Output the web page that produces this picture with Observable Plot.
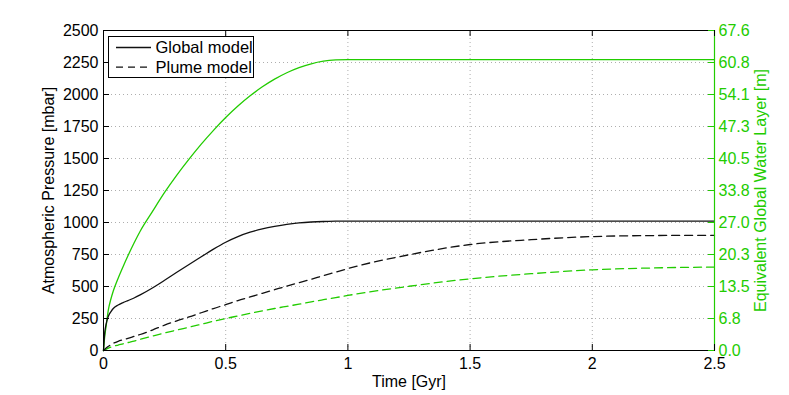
<!DOCTYPE html>
<html>
<head>
<meta charset="utf-8">
<script src="https://cdn.jsdelivr.net/npm/d3@7"></script>
<script src="https://cdn.jsdelivr.net/npm/@observablehq/plot@0.6"></script>
<style>
  html, body { margin: 0; padding: 0; background: #fff; }
  #wrap { position: relative; width: 789px; height: 395px; font-family: "Liberation Sans", Arial, sans-serif; }
  #legend { position: absolute; left: 0; top: 0; pointer-events: none; }
</style>
</head>
<body>
<div id="wrap"></div>
<script>
// ---- data ----
const timeGyr = [0, 0.005, 0.01, 0.02, 0.03, 0.04, 0.06, 0.08, 0.1, 0.125, 0.15, 0.2, 0.25, 0.3, 0.35, 0.4, 0.45, 0.5, 0.55, 0.6, 0.65, 0.7, 0.75, 0.8, 0.85, 0.9, 0.95, 1.0, 1.25, 1.5, 1.75, 2.0, 2.25, 2.5];
// Atmospheric pressure [mbar]
const globalPressure = [0, 140, 200, 268, 302, 328, 355, 374, 390, 410, 434, 488, 549, 611, 672, 732, 792, 846, 890, 924, 950, 970, 986, 997, 1004, 1008, 1010, 1011, 1011, 1011, 1011, 1011, 1011, 1011];
const plumePressure = [0, 10, 18, 33, 45, 56, 72, 84, 95, 110, 125, 160, 198, 232, 262, 295, 328, 358, 390, 418, 447, 475, 503, 530, 557, 585, 612, 640, 748, 828, 866, 890, 898, 900];
// Equivalent global water layer [m]
const globalWater = [0, 2.97, 4.87, 8.65, 10.82, 12.57, 15.28, 17.71, 20.01, 22.71, 25.20, 29.34, 33.39, 37.05, 40.42, 43.59, 46.51, 49.21, 51.65, 53.81, 55.70, 57.32, 58.68, 59.76, 60.57, 61.11, 61.38, 61.46, 61.46, 61.46, 61.46, 61.46, 61.46, 61.46];
const plumeWater = [0, 0.14, 0.24, 0.49, 0.70, 0.89, 1.16, 1.41, 1.68, 2.0, 2.35, 3.03, 3.70, 4.33, 4.92, 5.54, 6.17, 6.76, 7.30, 7.84, 8.38, 8.87, 9.33, 9.79, 10.28, 10.73, 11.17, 11.63, 13.57, 15.14, 16.22, 17.04, 17.44, 17.63];

const xTicks = [0, 0.5, 1, 1.5, 2, 2.5];
const xTickLabels = ["0", "0.5", "1", "1.5", "2", "2.5"];
const leftTicks = [0, 250, 500, 750, 1000, 1250, 1500, 1750, 2000, 2250, 2500];
const rightTickLabels = ["0.0", "6.8", "13.5", "20.3", "27.0", "33.8", "40.5", "47.3", "54.1", "60.8", "67.6"];
const rightMax = 67.6;
const leftMax = 2500;

const seriesNames = ["Global model", "Plume model"];
const xLabel = "Time [Gyr]";
const leftLabel = "Atmospheric Pressure [mbar]";
const rightLabel = "Equivalent Global Water Layer [m]";

// ---- build tables ----
const toLeft = m => m * leftMax / rightMax;
const rows = (ys, conv = v => v) => timeGyr.map((t, i) => ({t, v: conv(ys[i])}));
const gP = rows(globalPressure), pP = rows(plumePressure);
const gW = rows(globalWater, toLeft), pW = rows(plumeWater, toLeft);

const green = "#22cc00";
const dash = "8,5";
const xLab = new Map(xTicks.map((v, i) => [v, xTickLabels[i]]));
const rLab = new Map(leftTicks.map((v, i) => [v, rightTickLabels[i]]));
const innerX = xTicks.slice(1, -1);
const innerY = leftTicks.slice(1, -1);
const TL = 6;
const FS = 16;

const chart = Plot.plot({
  width: 789,
  height: 395,
  marginLeft: 103,
  marginRight: 75,
  marginTop: 30,
  marginBottom: 45,
  style: {fontFamily: '"Liberation Sans", Arial, sans-serif', fontSize: "16px", background: "#fff", overflow: "visible"},
  x: {domain: [0, 2.5]},
  y: {domain: [0, 2500]},
  marks: [
    // grid
    Plot.ruleX(innerX, {x: d => d, stroke: "#999", strokeWidth: 0.8, strokeDasharray: "1,3"}),
    Plot.ruleY(innerY, {y: d => d, stroke: "#999", strokeWidth: 0.8, strokeDasharray: "1,3"}),
    // curves
    Plot.line(gW, {x: "t", y: "v", stroke: green, strokeWidth: 1.3, curve: "monotone-x"}),
    Plot.line(pW, {x: "t", y: "v", stroke: green, strokeWidth: 1.3, strokeDasharray: dash, curve: "monotone-x"}),
    Plot.line(gP, {x: "t", y: "v", stroke: "#111", strokeWidth: 1.3, curve: "monotone-x"}),
    Plot.line(pP, {x: "t", y: "v", stroke: "#111", strokeWidth: 1.3, strokeDasharray: dash, curve: "monotone-x"}),
    // frame
    Plot.frame({stroke: "#000", strokeWidth: 1}),
    Plot.ruleX([2.5], {x: d => d, stroke: green, strokeWidth: 1.2}),
    // inward ticks
    Plot.ruleX(xTicks, {x: d => d, y1: 0, y2: 0, insetTop: -TL, stroke: "#000"}),
    Plot.ruleX(xTicks, {x: d => d, y1: 2500, y2: 2500, insetBottom: -TL, stroke: "#000"}),
    Plot.ruleY(leftTicks, {y: d => d, x1: 0, x2: 0, insetRight: -TL, stroke: "#000"}),
    Plot.ruleY(leftTicks, {y: d => d, x1: 2.5, x2: 2.5, insetLeft: -TL, stroke: green}),
    // tick labels
    Plot.axisX(xTicks, {anchor: "bottom", tickSize: 0, tickPadding: 7, tickFormat: d => xLab.get(d), label: null, fill: "#000", fontSize: FS}),
    Plot.axisY(leftTicks, {anchor: "left", tickSize: 0, tickPadding: 5, tickFormat: d => String(d), label: null, fill: "#000", fontSize: FS}),
    Plot.axisY(leftTicks, {anchor: "right", tickSize: 0, tickPadding: 4, tickFormat: d => rLab.get(d), label: null, fill: green, fontSize: FS}),
    // axis titles
    Plot.text([xLabel], {text: d => d, frameAnchor: "bottom", dy: 31, textAnchor: "middle", lineAnchor: "middle", fill: "#000", fontSize: FS}),
    Plot.text([leftLabel], {text: d => d, frameAnchor: "left", rotate: -90, dx: -55, textAnchor: "middle", lineAnchor: "middle", fill: "#000", fontSize: FS}),
    Plot.text([rightLabel], {text: d => d, frameAnchor: "right", rotate: -90, dx: 46, textAnchor: "middle", lineAnchor: "middle", fill: green, fontSize: FS})
  ]
});

const wrap = document.getElementById("wrap");
wrap.appendChild(chart);

// legend overlay (inside the plot area, top-left)
const ns = "http://www.w3.org/2000/svg";
const lg = document.createElementNS(ns, "svg");
lg.setAttribute("id", "legend");
lg.setAttribute("width", 789);
lg.setAttribute("height", 395);
lg.setAttribute("font-family", '"Liberation Sans", Arial, sans-serif');
lg.setAttribute("font-size", "16.5");
const box = document.createElementNS(ns, "rect");
box.setAttribute("x", 108.5); box.setAttribute("y", 36.5);
box.setAttribute("width", 145); box.setAttribute("height", 41);
box.setAttribute("fill", "#fff"); box.setAttribute("stroke", "#000");
lg.appendChild(box);
seriesNames.forEach((name, i) => {
  const yy = 47.5 + i * 19.6;
  const ln = document.createElementNS(ns, "line");
  ln.setAttribute("x1", 116); ln.setAttribute("x2", 151);
  ln.setAttribute("y1", yy); ln.setAttribute("y2", yy);
  ln.setAttribute("stroke", "#111"); ln.setAttribute("stroke-width", 1.3);
  if (i === 1) ln.setAttribute("stroke-dasharray", "7,5");
  lg.appendChild(ln);
  const tx = document.createElementNS(ns, "text");
  tx.setAttribute("x", 155.5); tx.setAttribute("y", yy);
  tx.setAttribute("dy", "0.35em");
  tx.textContent = name;
  lg.appendChild(tx);
});
wrap.appendChild(lg);
</script>
</body>
</html>
